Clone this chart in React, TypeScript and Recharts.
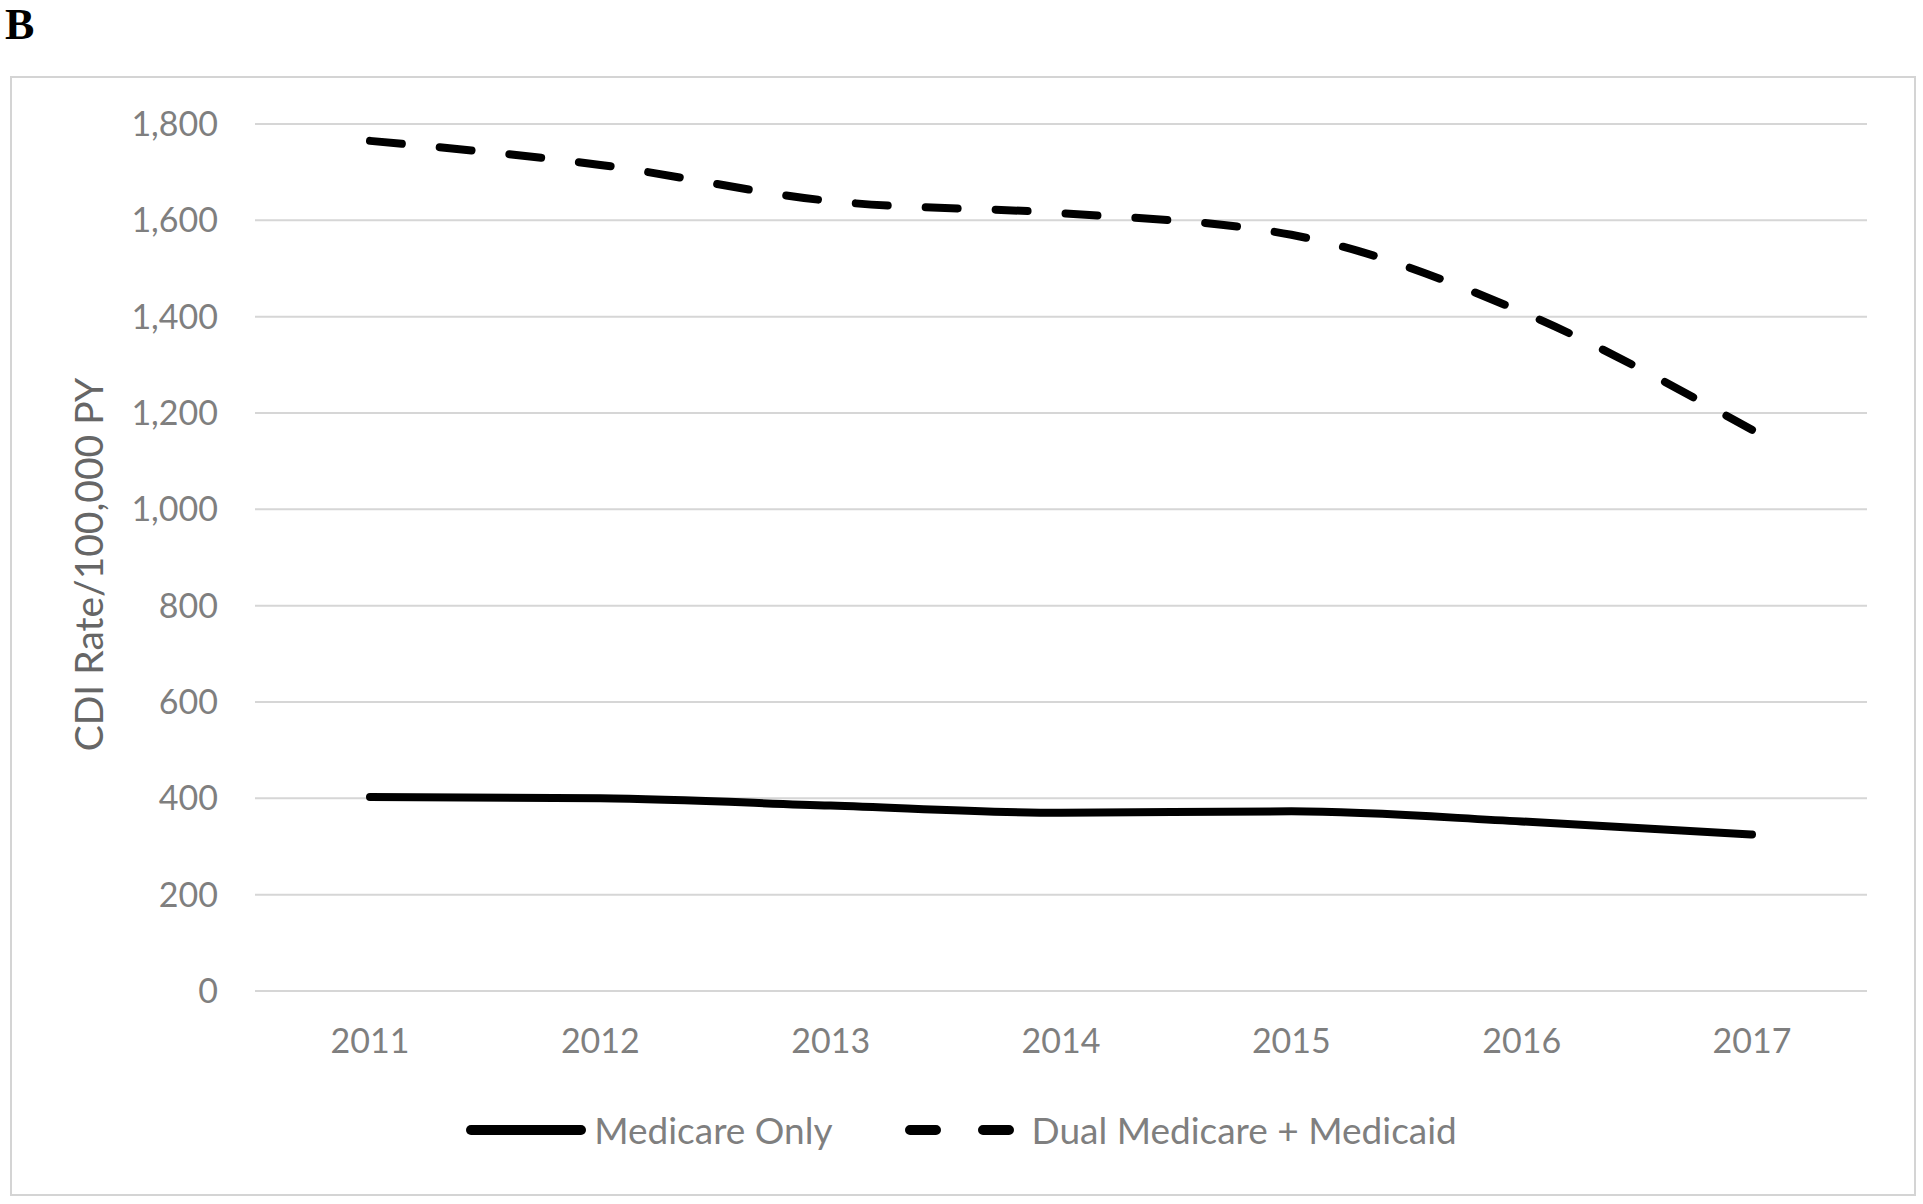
import React from 'react';
import { LineChart, Line, XAxis, YAxis, CartesianGrid, Legend } from 'recharts';

const years = ['2011', '2012', '2013', '2014', '2015', '2016', '2017'];
const medicareOnly = [403, 400, 385, 370, 373, 352, 325];
const dualMedicareMedicaid = [1765, 1715, 1640, 1615, 1570, 1410, 1165];
const yTicks = [0, 200, 400, 600, 800, 1000, 1200, 1400, 1600, 1800];
const seriesNames = ['Medicare Only', 'Dual Medicare + Medicaid'];
const yAxisTitle = 'CDI Rate/100,000 PY';
const panelLetter = 'B';

const data = years.map((y, i) => ({
  year: y,
  medicare: medicareOnly[i],
  dual: dualMedicareMedicaid[i],
}));

const FONT = 'Lato, "Open Sans", sans-serif';
const TICK_COLOR = '#7f7f7f';

const legendSamples: Record<string, { width: number; dash?: string; gap: number }> = {
  medicare: { width: 120, dash: undefined, gap: 8 },
  dual: { width: 111, dash: '26 47', gap: 16 },
};
const seriesOrder = ['medicare', 'dual'];

const renderLegend = (props: any) => {
  const payload = [...(props.payload || [])].sort(
    (a: any, b: any) => seriesOrder.indexOf(a.dataKey) - seriesOrder.indexOf(b.dataKey)
  );
  return (
    <div
      style={{
        display: 'flex',
        justifyContent: 'center',
        alignItems: 'center',
        width: 1923,
        fontFamily: FONT,
        fontSize: 37,
        color: TICK_COLOR,
      }}
    >
      {payload.map((entry: any, i: number) => {
        const s = legendSamples[entry.dataKey] || legendSamples.medicare;
        return (
          <div key={i} style={{ display: 'flex', alignItems: 'center', marginLeft: i ? 72 : 0 }}>
            <svg width={s.width} height={20} style={{ display: 'block' }}>
              <line
                x1={5}
                y1={10}
                x2={s.width - 5}
                y2={10}
                stroke="#000"
                strokeWidth={10}
                strokeLinecap="round"
                strokeDasharray={s.dash}
              />
            </svg>
            <span style={{ marginLeft: s.gap, lineHeight: '50px' }}>{entry.value}</span>
          </div>
        );
      })}
    </div>
  );
};

const renderYLabel = (props: any) => {
  const vb = props.viewBox || { x: 0, y: 124, width: 255, height: 867 };
  const cx = 88;
  const cy = vb.y + vb.height / 2 + 7;
  return (
    <text
      x={cx}
      y={cy}
      transform={`rotate(-90, ${cx}, ${cy})`}
      textAnchor="middle"
      dominantBaseline="central"
      fontFamily={FONT}
      fontSize={39}
      fill="#666666"
    >
      {yAxisTitle}
    </text>
  );
};

export default function App() {
  return (
    <div
      style={{
        position: 'absolute',
        left: 0,
        top: 0,
        width: 1923,
        height: 1204,
        background: '#fff',
        overflow: 'hidden',
      }}
    >
      <div
        style={{
          position: 'absolute',
          left: 5,
          top: 0,
          fontFamily: '"Liberation Serif", "Times New Roman", serif',
          fontWeight: 'bold',
          fontSize: 44,
          color: '#000',
          lineHeight: '50px',
        }}
      >
        {panelLetter}
      </div>
      <div
        style={{
          position: 'absolute',
          left: 10,
          top: 76,
          width: 1906,
          height: 1120,
          border: '2px solid #d4d4d4',
          boxSizing: 'border-box',
        }}
      />
      <div style={{ position: 'absolute', left: 0, top: 0 }}>
        <LineChart
          width={1923}
          height={1204}
          data={data}
          margin={{ top: 124, right: 56, left: 0, bottom: 133 }}
        >
          <CartesianGrid vertical={false} stroke="#d6d6d6" strokeWidth={2} />
          <XAxis
            dataKey="year"
            height={80}
            axisLine={false}
            tickLine={false}
            tickSize={0}
            tickMargin={38}
            padding={{ left: 115, right: 115 }}
            tick={{ fill: TICK_COLOR, fontSize: 34, fontFamily: FONT }}
            interval={0}
          />
          <YAxis
            width={255}
            domain={[0, 1800]}
            ticks={yTicks}
            axisLine={false}
            tickLine={false}
            tickSize={0}
            tickMargin={37}
            tickFormatter={(v: number) => v.toLocaleString('en-US')}
            tick={{ fill: TICK_COLOR, fontSize: 34, fontFamily: FONT }}
            label={{ content: renderYLabel }}
          />
          <Legend
            layout="horizontal"
            verticalAlign="middle"
            align="center"
            itemSorter={null as any}
            wrapperStyle={{ top: 1105, left: 0, width: 1923 }}
            content={renderLegend}
          />
          <Line
            name={seriesNames[0]}
            type="monotone"
            dataKey="medicare"
            stroke="#000"
            strokeWidth={8}
            strokeLinecap="round"
            dot={false}
            activeDot={false}
            isAnimationActive={false}
          />
          <Line
            name={seriesNames[1]}
            type="monotone"
            dataKey="dual"
            stroke="#000"
            strokeWidth={8}
            strokeLinecap="round"
            strokeDasharray="32 38"
            dot={false}
            activeDot={false}
            isAnimationActive={false}
          />
        </LineChart>
      </div>
    </div>
  );
}
